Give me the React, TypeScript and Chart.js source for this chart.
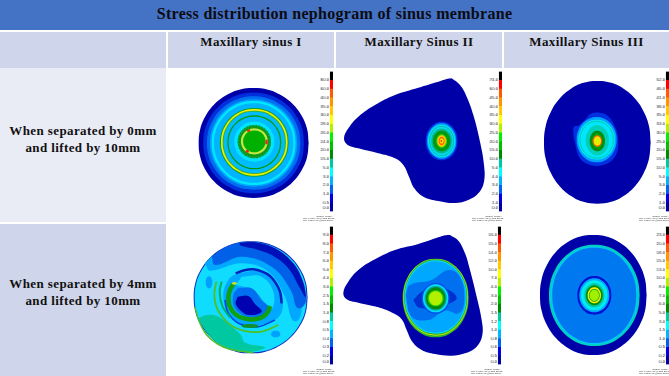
import React, { useEffect, useRef } from "react";
import { Chart, registerables } from "chart.js";
Chart.register(...registerables);

type Pt = [number, number];
type Layer =
  | { e: [number, number, number, number]; c: string; w?: number; dash?: number[] }
  | { p: Pt[]; c: string; w?: number; dash?: number[] };

const titleText = "Stress distribution nephogram of sinus membrane";
const columnNames = ["Maxillary sinus I", "Maxillary Sinus II", "Maxillary Sinus III"];
const rowNames = [["When separated by 0mm", "and lifted by 10mm"], ["When separated by 4mm", "and lifted by 10mm"]];

const legendColors = ["#000000", "#FF0000", "#FF5A00", "#FF9600", "#FFC800", "#FFFF00", "#B4F000", "#00F000", "#00C000", "#008C00", "#00C8A0", "#00FFFF", "#00B4FF", "#0064F0", "#0000E6", "#0000A0"];
const legendA = ["0.0", "0.5", "1.0", "2.0", "3.0", "5.0", "15.0", "20.0", "24.0", "26.0", "28.0", "30.0", "35.0", "40.0", "60.0", "80.0"];
const legendB = ["0.0", "1.0", "2.0", "3.0", "4.0", "5.0", "10.0", "15.0", "20.0", "25.0", "30.0", "35.0", "40.0", "45.0", "60.0", "74.0"];
const legendC = ["0.0", "1.0", "2.0", "3.0", "5.0", "10.0", "15.0", "20.0", "25.0", "30.0", "33.0", "35.0", "38.0", "41.0", "46.0", "52.0"];
const legendD = ["0.0", "0.2", "0.3", "0.4", "0.5", "0.8", "1.0", "1.5", "2.5", "3.0", "4.0", "5.0", "6.0", "7.0", "8.0", "9.0"];
const legendE = ["0.0", "0.5", "0.6", "0.8", "1.0", "1.2", "1.5", "2.0", "3.0", "4.0", "7.0", "10.0", "12.0", "14.0", "15.0", "16.0"];
const legendF = ["0.0", "0.2", "0.5", "1.0", "1.5", "3.0", "5.0", "6.0", "7.0", "8.0", "10.0", "13.0", "15.0", "18.0", "20.0", "23.0"];
const legendTickSpots = [0.36, 1, 2, 3, 4, 5, 6, 7, 8, 9, 10, 11, 12, 13, 14, 15];

const captionLines = ["default_Fringe :", "Max 7.734e+01 @Nod 30762", "Min 1.317e-02 @Nod 29754"];

// closed outline of a unit circle, read as a template for the near-elliptic fringes
const unitOutline: Pt[] = [[1, 0], [0.97, 0.26], [0.87, 0.5], [0.71, 0.71], [0.5, 0.87], [0.26, 0.97], [0, 1], [-0.26, 0.97], [-0.5, 0.87], [-0.71, 0.71], [-0.87, 0.5], [-0.97, 0.26], [-1, 0], [-0.97, -0.26], [-0.87, -0.5], [-0.71, -0.71], [-0.5, -0.87], [-0.26, -0.97], [0, -1], [0.26, -0.97], [0.5, -0.87], [0.71, -0.71], [0.87, -0.5], [0.97, -0.26], [1, 0]];

const fringeA: Layer[] = [
  { e: [266, 234, 165, 165], c: "#0000A8" },
  { e: [266, 234, 151, 151], c: "#0030DC" },
  { e: [266, 234, 140, 140], c: "#0070F0" },
  { e: [266, 234, 131, 131], c: "#00A0FF" },
  { e: [266, 234, 126, 126], c: "#00E8FF" },
  { e: [266, 234, 119, 119], c: "#00B4FF" },
  { e: [268, 232, 103, 103], c: "#10A030" },
  { e: [268, 232, 100, 100], c: "#EEF000" },
  { e: [268, 232, 95, 95], c: "#30B040" },
  { e: [268, 232, 92, 92], c: "#00BCFF" },
  { e: [268, 232, 81, 81], c: "#009A10" },
  { e: [268, 232, 77, 77], c: "#00BCFF" },
  { e: [268, 230, 60, 60], c: "#00E4FF" },
  { e: [268, 230, 50, 50], c: "#00B078" },
  { e: [268, 230, 46, 46], c: "#109818" },
  { e: [268, 230, 47, 47], c: "#109818", w: 2, dash: [1.5, 1.5] },
  { e: [268, 229, 37, 37], c: "#00B000" },
  { e: [268, 229, 37, 36], c: "#C0E840", w: 2.2 },
  { e: [268, 229, 37, 36], c: "#F02010", w: 2.2, dash: [3, 22] },
];

const sinusOutlineTop: Pt[] = [[350, 40], [375, 60], [395, 95], [415, 150], [435, 230], [447, 300], [447, 350], [430, 385], [400, 405], [360, 414], [310, 408], [265, 395], [238, 370], [222, 335], [205, 300], [180, 280], [130, 265], [70, 250], [38, 240], [27, 220], [40, 190], [70, 155], [120, 120], [180, 90], [250, 68], [310, 50], [335, 42], [350, 40]];

const fringeB: Layer[] = [
  { p: sinusOutlineTop, c: "#0000A8" },
  { e: [320, 228, 48, 58], c: "#0030E0" },
  { e: [320, 228, 44, 53], c: "#00A0FF" },
  { e: [320, 228, 41, 49], c: "#00E0F0" },
  { e: [320, 228, 37, 45], c: "#00B0A0" },
  { e: [320, 228, 35, 43], c: "#00D8F0" },
  { e: [320, 228, 31, 37], c: "#00B890" },
  { e: [320, 228, 26, 31], c: "#009A10" },
  { e: [320, 228, 16, 20], c: "#40D800" },
  { e: [320, 228, 13, 17], c: "#FFC800" },
  { e: [320, 228, 9, 12], c: "#FF5A00" },
  { e: [320, 228, 6, 8], c: "#F0E000" },
  { e: [319, 228, 2, 3], c: "#E02000" },
];

const blobBlue: Pt[] = [[290, 142], [320, 150], [345, 185], [355, 230], [345, 275], [310, 300], [270, 300], [240, 280], [225, 235], [220, 205], [222, 185], [235, 182], [255, 165], [270, 148], [290, 142]];

const fringeC: Layer[] = [
  { e: [292, 232, 160, 184], c: "#0000A8" },
  { p: blobBlue, c: "#0030E0" },
  { e: [290, 224, 60, 68], c: "#00A0FF" },
  { e: [290, 224, 55, 60], c: "#00E6FF" },
  { e: [290, 224, 50, 55], c: "#00C8A0", w: 1 },
  { e: [292, 226, 35, 45], c: "#00D0B8" },
  { e: [292, 228, 23, 31], c: "#009010" },
  { e: [292, 228, 15, 20], c: "#00C000" },
  { e: [292, 228, 14, 17], c: "#FF5010" },
  { e: [292, 228, 11, 14], c: "#F8E800" },
  { e: [292, 228, 8, 10], c: "#E0F000" },
];

const crescentNavy: Pt[] = [[225, 68], [280, 68], [335, 88], [385, 130], [412, 180], [422, 232], [405, 205], [370, 145], [325, 108], [280, 90], [225, 76], [225, 68]];
const crescentBlue: Pt[] = [[140, 108], [200, 74], [280, 68], [350, 98], [405, 165], [424, 235], [412, 262], [395, 262], [378, 212], [322, 142], [232, 110], [150, 135], [140, 108]];
const crescentAzure: Pt[] = [[120, 130], [150, 105], [232, 92], [330, 120], [395, 200], [410, 262], [400, 300], [382, 300], [360, 230], [310, 155], [230, 130], [135, 152], [120, 130]];
const tealPatch: Pt[] = [[100, 295], [125, 285], [160, 290], [200, 320], [228, 345], [240, 368], [300, 382], [255, 396], [195, 388], [140, 355], [100, 295]];
const swirlAzure: Pt[] = [[215, 160], [290, 155], [340, 200], [352, 270], [320, 305], [250, 315], [195, 290], [175, 230], [190, 180], [215, 160]];
const swirlBlue: Pt[] = [[218, 205], [260, 205], [290, 240], [312, 265], [285, 290], [240, 288], [208, 262], [205, 225], [218, 205]];
const swirlNavy: Pt[] = [[218, 230], [250, 228], [270, 252], [290, 275], [250, 285], [225, 270], [212, 250], [218, 230]];
const swirlCyan: Pt[] = [[230, 170], [290, 170], [325, 215], [322, 265], [300, 250], [275, 220], [235, 200], [215, 195], [230, 170]];
const arcDark: Pt[] = [[212, 160], [238, 151], [265, 148], [292, 155], [315, 168], [333, 190], [345, 215], [350, 250]];
const arcGreenThick: Pt[] = [[205, 192], [194, 212], [190, 238], [197, 265], [214, 285], [240, 296], [270, 298], [295, 290], [309, 275], [315, 258]];
const arcGreenThin: Pt[] = [[154, 185], [148, 220], [155, 262], [180, 300], [205, 320], [240, 333], [290, 335], [340, 315]];
const arcGreenInner: Pt[] = [[170, 185], [164, 215], [172, 258], [195, 292]];
const arcBlueInner: Pt[] = [[180, 240], [190, 280], [225, 312], [280, 320], [330, 300]];
const rimBottomLeft: Pt[] = [[90, 262], [103, 305], [125, 345], [158, 372], [195, 388], [265, 398]];

const fringeD: Layer[] = [
  { e: [257, 232, 171, 168], c: "#1030C0" },
  { e: [257, 232, 168, 165], c: "#10DCFF" },
  { p: crescentAzure, c: "#00A8FF" },
  { p: crescentBlue, c: "#0060E8" },
  { p: crescentNavy, c: "#0010B8" },
  { p: tealPatch, c: "#00C8A0" },
  { e: [132, 187, 10, 18], c: "#00A0FF" },
  { e: [332, 342, 14, 10], c: "#00A0FF" },
  { p: swirlAzure, c: "#00A8FF" },
  { p: swirlCyan, c: "#10DCFF" },
  { p: swirlBlue, c: "#0070F0" },
  { p: swirlNavy, c: "#0000B0" },
  { p: arcDark, c: "#0020C0", w: 2.5 },
  { p: arcBlueInner, c: "#0040E0", w: 1.5 },
  { p: arcGreenInner, c: "#00B060", w: 2 },
  { p: arcGreenThin, c: "#50C020", w: 1.8 },
  { p: arcGreenThick, c: "#10A010", w: 4.5 },
  { e: [255, 318, 26, 6], c: "#109030" },
  { e: [208, 190, 8, 4], c: "#C0E030" },
  { p: rimBottomLeft, c: "#50C030", w: 1.5 },
];

const sinusOutlineBottom: Pt[] = [[345, 45], [370, 62], [390, 100], [405, 150], [425, 230], [440, 300], [442, 345], [425, 380], [390, 400], [350, 407], [300, 402], [260, 390], [232, 365], [215, 330], [200, 298], [175, 280], [130, 262], [70, 248], [35, 238], [25, 218], [40, 185], [70, 150], [120, 118], [180, 90], [250, 72], [310, 52], [330, 46], [345, 45]];
const bandBlue: Pt[] = [[212, 225], [225, 195], [290, 180], [340, 150], [375, 170], [388, 240], [372, 280], [330, 272], [280, 300], [230, 290], [212, 225]];
const bandNavy: Pt[] = [[235, 240], [260, 215], [300, 198], [350, 215], [365, 235], [345, 250], [300, 265], [250, 262], [235, 240]];

const fringeE: Layer[] = [
  { p: sinusOutlineBottom, c: "#0000A8" },
  { e: [302, 234, 99, 118], c: "#30B030" },
  { e: [302, 232, 97, 115], c: "#B8E800" },
  { e: [302, 231, 95, 113], c: "#30A830" },
  { e: [302, 231, 93, 110], c: "#00E0F0" },
  { e: [302, 231, 90, 107], c: "#00A8FF" },
  { p: bandBlue, c: "#0070F0" },
  { p: bandNavy, c: "#0030D0" },
  { e: [302, 235, 42, 46], c: "#0050E8" },
  { e: [302, 235, 38, 42], c: "#00E0F8" },
  { e: [302, 235, 33, 37], c: "#00A8A0" },
  { e: [302, 235, 29, 33], c: "#008C10" },
  { e: [302, 235, 24, 24], c: "#30D000" },
  { e: [302, 235, 20, 21], c: "#B0F000" },
];

const fringeF: Layer[] = [
  { e: [280, 225, 160, 180], c: "#0000A8" },
  { e: [283, 226, 136, 152], c: "#00D0C0" },
  { e: [283, 226, 130, 146], c: "#00C8F8" },
  { e: [283, 226, 126, 143], c: "#0078F0" },
  { e: [283, 226, 51, 58], c: "#0010D0" },
  { e: [283, 226, 45, 51], c: "#00A8FF" },
  { e: [283, 226, 40, 45], c: "#00E8F0" },
  { e: [283, 226, 30, 36], c: "#00C8A0" },
  { e: [283, 226, 25, 30], c: "#008C10" },
  { e: [283, 226, 20, 24], c: "#F8F000" },
  { e: [283, 226, 16, 19], c: "#00A010" },
  { e: [283, 226, 14, 17], c: "#A0F000" },
];

function toDataset(l: any) {
  const pts: Pt[] = l.e ? unitOutline.map(([u, v]) => [l.e[0] + u * l.e[2], l.e[1] + v * l.e[3]] as Pt) : l.p;
  const stroke = !!l.w;
  return {
    data: pts.map(([x, y]) => ({ x, y })),
    showLine: true,
    tension: 0.4,
    pointRadius: 0,
    borderWidth: stroke ? l.w : 0,
    borderColor: l.c,
    borderDash: l.dash || [],
    backgroundColor: l.c,
    fill: stroke ? false : "shape",
    clip: false,
  };
}

function FringePanel({ layers, left, top, width, height, cropX, cropY }: any) {
  const ref = useRef<HTMLCanvasElement>(null);
  useEffect(() => {
    const chart = new Chart(ref.current!, {
      type: "scatter",
      data: { datasets: layers.map(toDataset).reverse() },
      options: {
        animation: false,
        responsive: false,
        layout: { padding: 0 },
        plugins: { legend: { display: false }, tooltip: { enabled: false } },
        scales: {
          x: { type: "linear", display: false, min: (left - cropX) * 3, max: (left + width - cropX) * 3 },
          y: { type: "linear", display: false, reverse: true, min: (top - cropY) * 3, max: (top + height - cropY) * 3 },
        },
      },
    } as any);
    return () => chart.destroy();
  }, []);
  return <canvas ref={ref} width={width} height={height} style={{ position: "absolute", left, top, width, height }} />;
}

function Legend({ labels, right, top, height }: any) {
  const ref = useRef<HTMLCanvasElement>(null);
  const barWidth = 3.6;
  const axisWidth = 26;
  useEffect(() => {
    const colors = [...legendColors].reverse();
    const chart = new Chart(ref.current!, {
      type: "bar",
      data: {
        labels: ["fringe"],
        datasets: colors.map((c) => ({ data: [1], backgroundColor: c, barPercentage: 1, categoryPercentage: 1, stack: "s" })),
      },
      options: {
        animation: false,
        responsive: false,
        layout: { padding: 0 },
        plugins: { legend: { display: false }, tooltip: { enabled: false } },
        scales: {
          x: { display: false, stacked: true },
          y: {
            stacked: true,
            min: 0,
            max: 16,
            grid: { display: false, drawTicks: false, tickLength: 0 },
            border: { display: false },
            afterFit: (s: any) => { s.width = axisWidth; },
            afterBuildTicks: (s: any) => { s.ticks = legendTickSpots.map((value) => ({ value })); },
            ticks: {
              autoSkip: false,
              padding: 1,
              color: "#222",
              font: { family: "Liberation Sans", size: 4.2 },
              callback: (v: number) => labels[legendTickSpots.indexOf(v)],
            },
          },
        },
      },
    } as any);
    return () => chart.destroy();
  }, []);
  const w = axisWidth + barWidth;
  return <canvas ref={ref} width={w} height={height} style={{ position: "absolute", left: right - w, top, width: w, height }} />;
}

const serif = "'Liberation Serif', serif";

function Caption({ right, top }: any) {
  return (
    <div style={{ position: "absolute", left: right - 30, top, width: 30, textAlign: "right", font: `2.4px/2.2px 'Liberation Sans', sans-serif`, color: "#333", whiteSpace: "nowrap" }}>
      {captionLines.map((t) => <div key={t}>{t}</div>)}
    </div>
  );
}

function Cell({ x, y, w, h, bg, children, style }: any) {
  return <div style={{ position: "absolute", left: x, top: y, width: w, height: h, background: bg, ...style }}>{children}</div>;
}

export default function App() {
  const labelStyle = { textAlign: "center", font: `bold 13px ${serif}`, color: "#111", letterSpacing: "0.4px", whiteSpace: "nowrap" };
  return (
    <div style={{ position: "fixed", left: 0, top: 0, width: 669, height: 376, overflow: "hidden", background: "#fff", filter: "blur(0.4px)" }}>
      <Cell x={0} y={0} w={669} h={30} bg="#4472C4" style={{ textAlign: "center", font: `bold 16px/27px ${serif}`, color: "#0b0b12", letterSpacing: "0.3px" }}>{titleText}</Cell>
      <Cell x={0} y={32} w={166} h={36} bg="#CFD5EA" />
      <Cell x={168} y={32} w={166} h={36} bg="#CFD5EA" />
      <Cell x={336} y={32} w={166} h={36} bg="#CFD5EA" />
      <Cell x={504} y={32} w={165} h={36} bg="#CFD5EA" />
      <Cell x={168} y={34} w={166} h={18} style={labelStyle}>{columnNames[0]}</Cell>
      <Cell x={336} y={34} w={166} h={18} style={labelStyle}>{columnNames[1]}</Cell>
      <Cell x={504} y={34} w={165} h={18} style={labelStyle}>{columnNames[2]}</Cell>
      <Cell x={0} y={68} w={166} h={154} bg="#E9EBF5" />
      <Cell x={0} y={224} w={166} h={152} bg="#CFD5EA" />
      {rowNames.map((lines, r) => (
        <Cell key={r} x={0} y={r === 0 ? 122 : 275} w={166} h={34} style={{ ...labelStyle, lineHeight: "17px" }}>
          {lines.map((t) => <div key={t}>{t}</div>)}
        </Cell>
      ))}

      <FringePanel layers={fringeA} left={168} top={68} width={166} height={155} cropX={165} cropY={65} />
      <FringePanel layers={fringeB} left={336} top={68} width={164} height={155} cropX={335} cropY={65} />
      <FringePanel layers={fringeC} left={502} top={68} width={167} height={155} cropX={500} cropY={65} />
      <FringePanel layers={fringeD} left={168} top={223} width={166} height={153} cropX={165} cropY={220} />
      <FringePanel layers={fringeE} left={336} top={223} width={164} height={153} cropX={335} cropY={220} />
      <FringePanel layers={fringeF} left={502} top={223} width={167} height={153} cropX={500} cropY={220} />

      <Legend labels={legendA} right={333} top={68} height={147} />
      <Legend labels={legendB} right={502} top={68} height={147} />
      <Legend labels={legendC} right={669} top={68} height={147} />
      <Legend labels={legendD} right={333} top={223} height={145} />
      <Legend labels={legendE} right={501} top={223} height={145} />
      <Legend labels={legendF} right={669} top={223} height={145} />

      <Caption right={333} top={216} />
      <Caption right={502} top={216} />
      <Caption right={669} top={216} />
      <Caption right={333} top={369} />
      <Caption right={501} top={369} />
      <Caption right={669} top={369} />
    </div>
  );
}
